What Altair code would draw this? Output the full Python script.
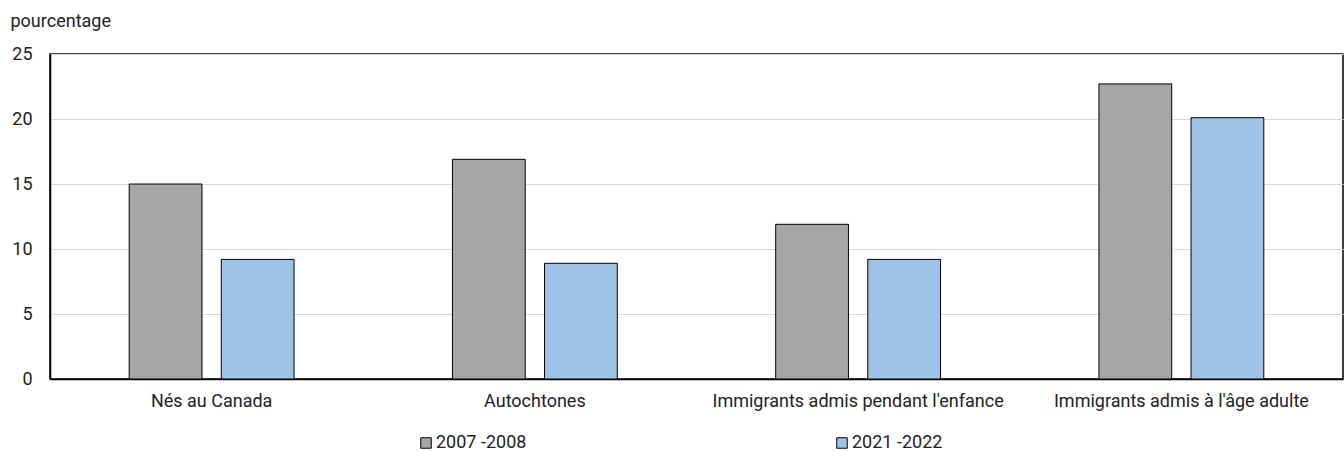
import altair as alt
import pandas as pd

categories = [
    "Nés au Canada",
    "Autochtones",
    "Immigrants admis pendant l'enfance",
    "Immigrants admis à l'âge adulte",
]
periods = ["2007 -2008", "2021 -2022"]
values_2007 = [15.0, 16.9, 11.9, 22.7]
values_2021 = [9.2, 8.9, 9.2, 20.1]
colors = ["#a6a6a6", "#9dc3e6"]

rows = []
for cat, a, b in zip(categories, values_2007, values_2021):
    rows.append({"groupe": cat, "periode": periods[0], "valeur": a})
    rows.append({"groupe": cat, "periode": periods[1], "valeur": b})
df = pd.DataFrame(rows)

FONT = "Roboto, Liberation Sans, sans-serif"
FS = 18

bars = alt.Chart(df).mark_bar(stroke="#000000", strokeWidth=1).encode(
    x=alt.X(
        "groupe:N",
        sort=categories,
        scale=alt.Scale(paddingInner=0.49, paddingOuter=0.245),
        axis=alt.Axis(
            title=None,
            labelAngle=0,
            labelLimit=0,
            ticks=False,
            labelPadding=13,
            labelFontSize=FS,
            labelColor="#222222",
            domainColor="#000000",
            domainWidth=1.5,
        ),
    ),
    xOffset=alt.XOffset(
        "periode:N",
        sort=periods,
        scale=alt.Scale(paddingInner=0.21, paddingOuter=0),
    ),
    y=alt.Y(
        "valeur:Q",
        scale=alt.Scale(domain=[0, 25]),
        axis=alt.Axis(
            title="pourcentage",
            titleAngle=0,
            titleAlign="left",
            titleBaseline="alphabetic",
            titleX=-40,
            titleY=-28,
            titleFontSize=FS,
            titleFontWeight="normal",
            titleColor="#222222",
            values=[0, 5, 10, 15, 20, 25],
            ticks=False,
            labelPadding=18,
            labelFontSize=FS,
            labelColor="#222222",
            domainColor="#000000",
            domainWidth=1.5,
            grid=True,
            gridColor="#d9d9d9",
            gridWidth=1,
        ),
    ),
    color=alt.Color(
        "periode:N",
        sort=periods,
        scale=alt.Scale(domain=periods, range=colors),
        legend=alt.Legend(
            title=None,
            orient="none",
            direction="horizontal",
            legendX=367,
            legendY=380,
            symbolType="square",
            symbolSize=110,
            symbolStrokeColor="#000000",
            symbolStrokeWidth=1,
            labelFontSize=FS,
            labelColor="#222222",
            labelOffset=1,
            labelLimit=0,
            columnPadding=306,
        ),
    ),
)

chart = bars.properties(
    width=1293,
    height=325,
    autosize=alt.AutoSizeParams(type="none"),
    padding={"left": 50, "top": 54, "right": 1, "bottom": 72},
).configure(
    font=FONT,
    background="#ffffff",
).configure_view(
    stroke="#000000",
    strokeWidth=1.5,
)

chart.save("out.html", embed_options={"renderer": "svg", "actions": False})
